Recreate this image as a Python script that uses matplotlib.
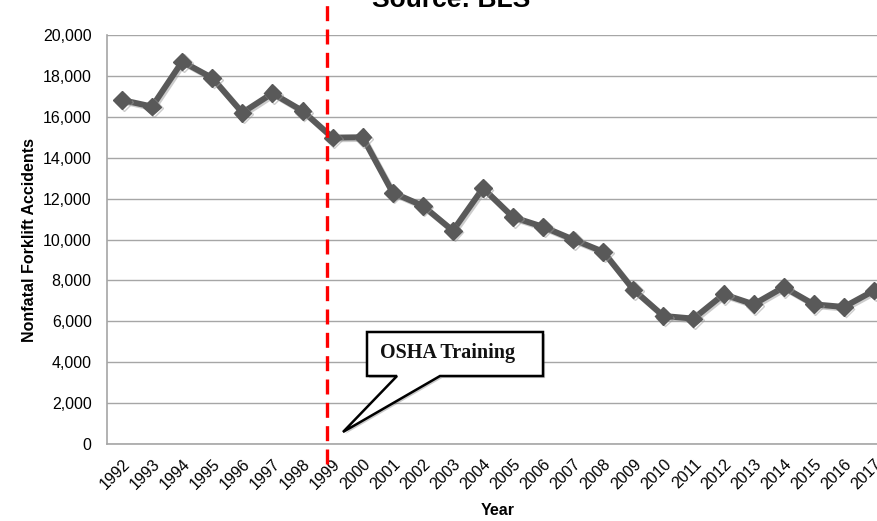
import matplotlib
matplotlib.use("Agg")
import matplotlib.pyplot as plt
import matplotlib.patheffects as pe
import matplotlib.transforms as mtransforms
from matplotlib.patches import Polygon
from matplotlib.ticker import FuncFormatter, MultipleLocator

years = [str(y) for y in range(1992, 2018)]
accidents = [16820, 16500, 18700, 17900, 16200, 17150, 16290, 14980, 15000,
             12290, 11650, 10430, 12510, 11090, 10620, 10000, 9400, 7550,
             6260, 6130, 7320, 6830, 7670, 6830, 6700, 7500]
event_year = "1999"
callout_text = "OSHA Training"
title_text = "Source: BLS"

W, H = 878, 521
fig = plt.figure(figsize=(W / 100, H / 100), dpi=100)
fig.patch.set_facecolor("white")

def fx(px):
    return px / W

def fy(py):
    return 1 - py / H

left, right, top, bottom = 107, 889, 35, 444
ax = fig.add_axes([fx(left), fy(bottom), (right - left) / W, (bottom - top) / H])

x = list(range(len(years)))
ax.plot(x, accidents, color="#595959", lw=4.3, marker="D", ms=9,
        mfc="#595959", mec="#595959", zorder=3, solid_joinstyle="miter",
        path_effects=[pe.SimpleLineShadow(offset=(1.2, -1.2), shadow_color="#9a9a9a", alpha=0.5),
                      pe.Normal()])

ax.set_xlim(-0.5, len(years) - 0.5)
ax.set_ylim(0, 20000)
ax.yaxis.set_major_locator(MultipleLocator(2000))
ax.yaxis.set_major_formatter(FuncFormatter(lambda v, p: f"{int(v):,}"))
ax.grid(axis="y", color="#a6a6a6", lw=1.0)
ax.set_axisbelow(True)
ax.set_xticks(x)
ax.set_xticklabels(years, rotation=45, ha="right", va="top", rotation_mode="anchor",
                   fontsize=11.5, family="Liberation Sans")
shift = mtransforms.ScaledTranslation(-3 / 100, 0, fig.dpi_scale_trans)
for lab in ax.get_xticklabels():
    lab.set_transform(lab.get_transform() + shift)
for lab in ax.get_yticklabels():
    lab.set_family("Liberation Sans")
    lab.set_fontsize(11.5)
ax.tick_params(axis="both", length=0)
ax.tick_params(axis="y", pad=11)
ax.tick_params(axis="x", pad=9)
for s in ["top", "right"]:
    ax.spines[s].set_visible(False)
for s in ["left", "bottom"]:
    ax.spines[s].set_color("#a6a6a6")
    ax.spines[s].set_linewidth(1.2)

ax.set_ylabel("Nonfatal Forklift Accidents", fontsize=11.5, fontweight="bold",
              family="Liberation Sans", labelpad=4)
ax.set_xlabel("Year", fontsize=11.5, fontweight="bold", family="Liberation Sans", labelpad=8)

# red dashed vertical line at the event year (slightly left of the category centre)
ex = years.index(event_year) - 0.18
ax.plot([ex, ex], [-0.05, 1.1], transform=ax.get_xaxis_transform(), color="#ff0000",
        lw=2.4, ls=(0, (4.5, 2.5)), clip_on=False, zorder=4)

# callout shape
pts = [(367, 332), (543, 332), (543, 376), (440, 376), (343, 432), (397, 376), (367, 376)]
poly = Polygon([(fx(a), fy(b)) for a, b in pts], closed=True, transform=fig.transFigure,
               facecolor="white", edgecolor="black", lw=1.8, zorder=5,
               path_effects=[pe.SimplePatchShadow(offset=(1.5, -1.5), alpha=0.3), pe.Normal()])
fig.add_artist(poly)
fig.text(fx(380), fy(353), callout_text, fontsize=14.5, fontweight="bold",
         family="Liberation Serif", color="#111111", va="center", ha="left", zorder=6)

fig.text(fx(451), fy(7), title_text, fontsize=19, fontweight="bold",
         family="Liberation Sans", ha="center", va="baseline")

fig.savefig("out.png", dpi=100)
